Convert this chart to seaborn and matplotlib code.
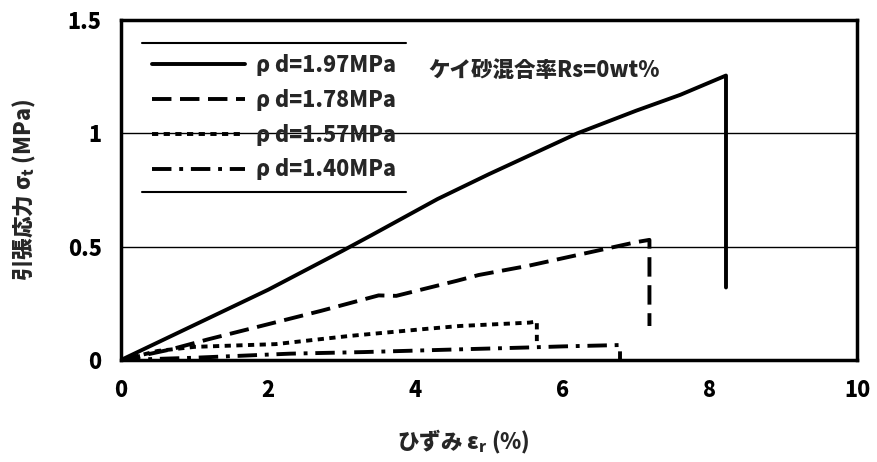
import matplotlib
matplotlib.use("Agg")
import matplotlib.pyplot as plt
import seaborn as sns
import numpy as np
from matplotlib.lines import Line2D

sns.set_theme(style="white")
plt.rcParams['font.family'] = ['Noto Sans CJK JP', 'DejaVu Sans']
plt.rcParams['font.weight'] = 'black'
plt.rcParams['mathtext.default'] = 'regular'

# Data
labels = ["ρ d=1.97MPa", "ρ d=1.78MPa", "ρ d=1.57MPa", "ρ d=1.40MPa"]
strain_197 = [0, 1.0, 2.0, 3.0, 3.4, 4.3, 5.0, 6.2, 7.0, 7.6, 8.22, 8.22]
stress_197 = [0, 0.155, 0.31, 0.48, 0.55, 0.71, 0.82, 1.0, 1.10, 1.17, 1.255, 0.32]
strain_178 = [0, 0.68, 1.17, 2.0, 2.72, 3.5, 3.74, 4.57, 4.86, 5.54, 7.0, 7.18, 7.18]
stress_178 = [0, 0.047, 0.09, 0.158, 0.217, 0.285, 0.283, 0.35, 0.375, 0.416, 0.52, 0.53, 0.15]
strain_157 = [0, 0.5, 1.0, 2.1, 3.1, 4.1, 4.6, 5.55, 5.65, 5.65]
stress_157 = [0, 0.04, 0.058, 0.07, 0.106, 0.136, 0.15, 0.165, 0.17, 0.07]
strain_140 = [0, 1.0, 2.3, 3.3, 4.6, 5.5, 6.0, 6.78, 6.78]
stress_140 = [0, 0.01, 0.028, 0.035, 0.047, 0.055, 0.06, 0.066, 0.0]
annotation = "ケイ砂混合率Rs=0wt%"
xlabel = "ひずみ ε$_r$ (%)"
ylabel = "引張応力 σ$_t$ (MPa)"
xticks = [0, 2, 4, 6, 8, 10]
yticks = [0, 0.5, 1, 1.5]
yticklabels = ["0", "0.5", "1", "1.5"]

fig = plt.figure(figsize=(8.78, 4.62), dpi=100)
ax = fig.add_axes([121/878, 1-360/462, (857-121)/878, (360-20)/462])

styles = [
    dict(linestyle='-'),
    dict(dashes=(5, 2.2)),
    dict(dashes=(1.6, 1.4)),
    dict(dashes=(5, 2, 1, 2)),
]
series = [(strain_197, stress_197), (strain_178, stress_178),
          (strain_157, stress_157), (strain_140, stress_140)]
for (xs, ys), lab, st in zip(series, labels, styles):
    sns.lineplot(x=xs, y=ys, sort=False, estimator=None, color='black',
                 lw=2.8, label=lab, ax=ax, **st)

ax.set_xlim(0, 10)
ax.set_ylim(0, 1.5)
ax.set_xticks(xticks)
ax.set_yticks(yticks)
ax.set_yticklabels(yticklabels)
ax.tick_params(axis='both', length=0, labelsize=15.5, colors='black')
ax.tick_params(axis='x', pad=14)
ax.tick_params(axis='y', pad=14)
for lab in ax.get_xticklabels() + ax.get_yticklabels():
    lab.set_fontweight('black')
ax.grid(False)
for yv in [0.5, 1.0]:
    ax.axhline(yv, color='black', lw=1.0, zorder=0)
for sp in ax.spines.values():
    sp.set_color('black')
    sp.set_linewidth(2.5)

ax.set_xlabel(xlabel, fontsize=15.5, fontweight='black')
ax.set_ylabel(ylabel, fontsize=15.5, fontweight='black')
ax.xaxis.set_label_coords(0.465, -0.2)
ax.yaxis.set_label_coords(-0.113, 0.5)

ax.text(0.417, 0.853, annotation, transform=ax.transAxes, fontsize=15.5,
        fontweight='black', ha='left', va='center')

leg = ax.legend(loc='upper left', bbox_to_anchor=(0.028, 0.932), frameon=False,
                fontsize=15.5, handlelength=4.3, handletextpad=0.5,
                labelspacing=0.55, borderaxespad=0, borderpad=0.5)
for t in leg.get_texts():
    t.set_fontweight('black')

fig.canvas.draw()
bb = leg.get_window_extent().transformed(fig.transFigure.inverted())
for yv in (bb.y0, bb.y1):
    fig.add_artist(Line2D([bb.x0, bb.x1], [yv, yv], color='black', lw=1.5,
                          transform=fig.transFigure))

fig.savefig("out.png", dpi=100)
